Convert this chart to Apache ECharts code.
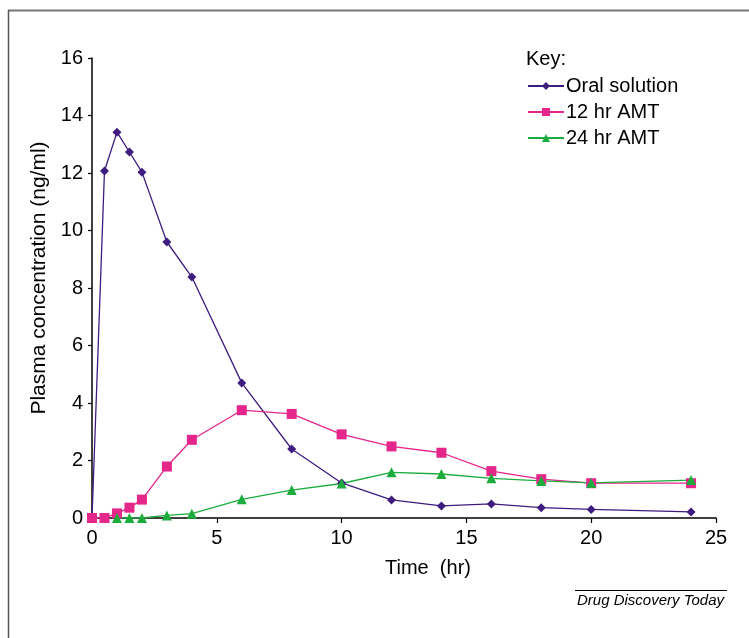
<!DOCTYPE html>
<html><head><meta charset="utf-8">
<script src="https://cdn.jsdelivr.net/npm/echarts@6/dist/echarts.min.js"></script>
<style>html,body{margin:0;padding:0;background:#fff}#c{width:749px;height:638px}</style>
</head><body><div id="c"></div>
<script>
const oralTimes = [0, 0.5, 1, 1.5, 2, 3, 4, 6, 8, 10, 12, 14, 16, 18, 20, 24];
const oralValues = [0, 12.07, 13.42, 12.73, 12.03, 9.6, 8.38, 4.7, 2.4, 1.22, 0.63, 0.42, 0.49, 0.36, 0.3, 0.21];
const amt12Times = [0, 0.5, 1, 1.5, 2, 3, 4, 6, 8, 10, 12, 14, 16, 18, 20, 24];
const amt12Values = [0, 0, 0.16, 0.36, 0.64, 1.79, 2.72, 3.75, 3.62, 2.91, 2.49, 2.27, 1.63, 1.35, 1.21, 1.21];
const amt24Times = [1, 1.5, 2, 3, 4, 6, 8, 10, 12, 14, 16, 18, 20, 24];
const amt24Values = [0, 0, 0, 0.09, 0.15, 0.65, 0.97, 1.2, 1.59, 1.53, 1.38, 1.29, 1.22, 1.32];
const seriesNames = ['Oral solution', '12 hr AMT', '24 hr AMT'];
const xTicks = [0, 5, 10, 15, 20, 25];
const yTicks = [0, 2, 4, 6, 8, 10, 12, 14, 16];

const zip = (a, b) => a.map((t, i) => [t, b[i]]);
const font = 'Liberation Sans, Arial, sans-serif';
const chart = echarts.init(document.getElementById('c'));
chart.setOption({
  animation: false,
  backgroundColor: '#fff',
  grid: { left: 92, right: 33, top: 58, bottom: 120, containLabel: false },
  xAxis: {
    type: 'value', min: xTicks[0], max: xTicks[xTicks.length - 1], interval: 5,
    name: 'Time  (hr)', nameLocation: 'middle', nameGap: 40,
    nameTextStyle: { fontFamily: font, fontSize: 20, color: '#000', padding: [0, 0, 0, 48] },
    axisLine: { lineStyle: { color: '#000', width: 1.5 } },
    axisTick: { show: true, length: 5, lineStyle: { color: '#000', width: 1.2 } },
    axisLabel: { fontFamily: font, fontSize: 20, color: '#000', margin: 10 },
    splitLine: { show: false }
  },
  yAxis: {
    type: 'value', min: yTicks[0], max: yTicks[yTicks.length - 1], interval: 2,
    name: 'Plasma concentration (ng/ml)', nameLocation: 'middle', nameGap: 37,
    nameTextStyle: { fontFamily: font, fontSize: 21, color: '#000', padding: [0, 0, 0, 20] },
    axisLine: { show: true, lineStyle: { color: '#000', width: 1.5 } },
    axisTick: { show: true, length: 4, lineStyle: { color: '#000', width: 1.2 } },
    axisLabel: { fontFamily: font, fontSize: 20, color: '#000', margin: 9 },
    splitLine: { show: false }
  },
  legend: {
    orient: 'vertical', left: 522, top: 71, itemWidth: 36, itemHeight: 10, itemGap: 6,
    textStyle: { fontFamily: font, fontSize: 20, color: '#000', padding: [0, 0, 0, -3] },
    data: seriesNames
  },
  title: {
    text: 'Key:', left: 521, top: 44,
    textStyle: { fontFamily: font, fontSize: 20, fontWeight: 'normal', color: '#000' }
  },
  series: [
    { name: seriesNames[0], type: 'line', data: zip(oralTimes, oralValues), symbol: 'diamond', symbolSize: 9,
      color: '#3e1c80', lineStyle: { width: 1.3 }, itemStyle: { color: '#3e1c80' } },
    { name: seriesNames[1], type: 'line', data: zip(amt12Times, amt12Values), symbol: 'rect', symbolSize: 10,
      color: '#e5268a', lineStyle: { width: 1.3 }, itemStyle: { color: '#e5268a' } },
    { name: seriesNames[2], type: 'line', data: zip(amt24Times, amt24Values), symbol: 'triangle', symbolSize: 10,
      color: '#1cac3e', lineStyle: { width: 1.3 }, itemStyle: { color: '#1cac3e' } }
  ],
  graphic: [
    { type: 'line', shape: { x1: 8, y1: 10.5, x2: 749, y2: 10.5 }, style: { stroke: '#777', lineWidth: 2 } },
    { type: 'line', shape: { x1: 8.5, y1: 10, x2: 8.5, y2: 638 }, style: { stroke: '#555', lineWidth: 1.5 } },
    { type: 'line', shape: { x1: 575, y1: 590.5, x2: 727, y2: 590.5 }, style: { stroke: '#000', lineWidth: 1 } },
    { type: 'text', right: 25, top: 593, style: { text: 'Drug Discovery Today', fontFamily: font, fontSize: 15, fontStyle: 'italic', fill: '#000' } }
  ]
});
</script></body></html>
